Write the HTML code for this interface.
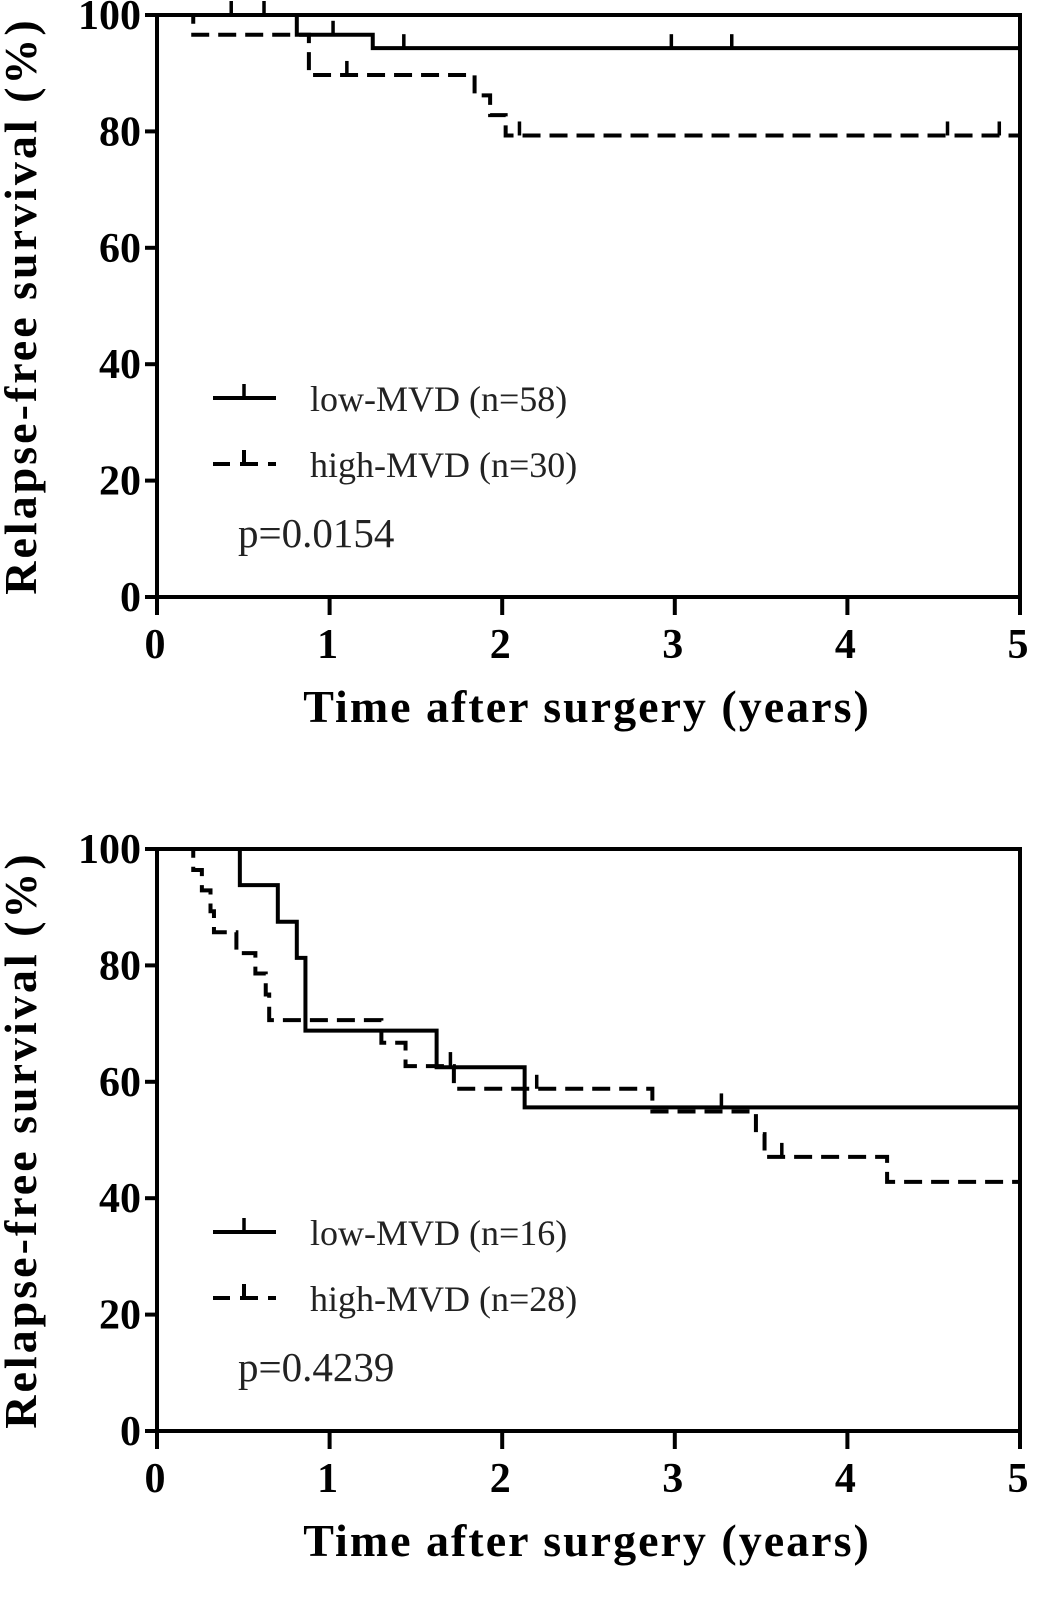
<!DOCTYPE html>
<html><head><meta charset="utf-8"><style>
html,body{margin:0;padding:0;background:#fff}
svg{display:block}
text{font-family:"Liberation Serif",serif}
</style></head><body>
<svg id="c" width="1063" height="1617" viewBox="0 0 1063 1617"></svg>
<script>
// Panel 1 data (years, percent)
const p1LowT = [0, 0.81, 1.25, 5];
const p1LowS = [100, 96.6, 94.3, 94.3];
const p1LowCensT = [0.43, 0.62, 1.02, 1.43, 2.98, 3.33];
const p1LowCensS = [100, 100, 96.6, 94.3, 94.3, 94.3];
const p1HighT = [0, 0.21, 0.88, 1.84, 1.93, 2.02, 5];
const p1HighS = [100, 96.6, 89.7, 86.2, 82.8, 79.3, 79.3];
const p1HighCensT = [1.10, 2.10, 4.58, 4.88];
const p1HighCensS = [89.7, 79.3, 79.3, 79.3];
// Panel 2 data
const p2LowT = [0, 0.48, 0.70, 0.81, 0.86, 1.62, 2.13, 5];
const p2LowS = [100, 93.8, 87.5, 81.3, 68.8, 62.5, 55.6, 55.6];
const p2LowCensT = [3.27];
const p2LowCensS = [55.6];
const p2HighT = [0, 0.21, 0.26, 0.31, 0.33, 0.46, 0.57, 0.63, 0.65, 1.30, 1.44, 1.72, 2.87, 3.47, 3.52, 4.23, 5];
const p2HighS = [100, 96.4, 92.9, 89.3, 85.7, 82.1, 78.6, 75.0, 70.6, 66.7, 62.7, 58.8, 54.9, 51.0, 47.1, 42.8, 42.8];
const p2HighCensT = [1.70, 2.20, 3.62];
const p2HighCensS = [62.7, 58.8, 47.1];
const xTicks = [0, 1, 2, 3, 4, 5];
const yTicks = [0, 20, 40, 60, 80, 100];

const svg = document.getElementById('c');
const NS = 'http://www.w3.org/2000/svg';
function mk(tag, attrs, parent){
  const e = document.createElementNS(NS, tag);
  for (const k in attrs) e.setAttribute(k, attrs[k]);
  (parent||svg).appendChild(e);
  return e;
}
function panel(name, top, lowT, lowS, lowCT, lowCS, highT, highS, highCT, highCS, nLow, nHigh, pval){
  const x0 = 157, x1 = 1020, y100 = top, y0 = top + 582;
  const X = t => x0 + (x1 - x0) * t / 5;
  const Y = s => y0 - (y0 - y100) * s / 100;
  const g = mk('g', {});
  
  
  const fr = mk('rect', {x:x0, y:y100, width:x1-x0, height:y0-y100, fill:'none', stroke:'#000', 'stroke-width':4}, g);
  
  
  yTicks.forEach(v => {
    const l = mk('line', {x1:x0-12, x2:x0, y1:Y(v), y2:Y(v), stroke:'#000', 'stroke-width':4}, g);
    
    
    const t = mk('text', {x:x0-16, y:Y(v)+14, 'text-anchor':'end', 'font-size':42, 'font-weight':'bold'}, g);
    t.textContent = v;
    
    
  });
  xTicks.forEach(v => {
    const l = mk('line', {x1:X(v), x2:X(v), y1:y0, y2:y0+18, stroke:'#000', 'stroke-width':4}, g);
    
    
    const t = mk('text', {x:X(v)-2, y:y0+61, 'text-anchor':'middle', 'font-size':42, 'font-weight':'bold'}, g);
    t.textContent = v;
    
    
  });
  const xt = mk('text', {x:587, y:y0+125, 'text-anchor':'middle', 'font-size':46, 'font-weight':'bold', 'letter-spacing':2}, g);
  xt.textContent = 'Time after surgery (years)';
  
  
  const yt = mk('text', {x:0, y:0, 'text-anchor':'middle', 'font-size':46, 'font-weight':'bold', 'letter-spacing':3, transform:`translate(36,${(y0+y100)/2}) rotate(-90)`}, g);
  yt.textContent = 'Relapse-free survival (%)';
  
  
  function step(T, S, dash, nm){
    let d = `M${X(T[0])},${Y(S[0])}`;
    for (let i = 1; i < T.length; i++) d += ` H${X(T[i])} V${Y(S[i])}`;
    const p = mk('path', {d, fill:'none', stroke:'#000', 'stroke-width':4}, g);
    if (dash) p.setAttribute('stroke-dasharray', '18,9');
    
    
  }
  function cens(T, S, nm){
    T.forEach((t, i) => {
      const l = mk('line', {x1:X(t), x2:X(t), y1:Y(S[i]), y2:Y(S[i])-14, stroke:'#000', 'stroke-width':3.5}, g);
      
      
    });
  }
  step(lowT, lowS, false, 'low-mvd-curve');
  step(highT, highS, true, 'high-mvd-curve');
  cens(lowCT, lowCS, 'low-mvd-censor');
  cens(highCT, highCS, 'high-mvd-censor');
  const ly1 = y100 + 383, ly2 = y100 + 449;
  const l1 = mk('line', {x1:213, x2:276, y1:ly1, y2:ly1, stroke:'#000', 'stroke-width':4}, g);
  
  
  mk('line', {x1:244, x2:244, y1:ly1, y2:ly1-14, stroke:'#000', 'stroke-width':3.5}, g);
  const l2 = mk('path', {d:`M213,${ly2} H230 M240,${ly2} H258 M268,${ly2} H276 M244,${ly2} V${ly2-14}`, stroke:'#000', 'stroke-width':4, fill:'none'}, g);
  
  
  const t1 = mk('text', {x:310, y:ly1+13, 'font-size':36, fill:'#222'}, g);
  t1.textContent = `low-MVD (n=${nLow})`;
  
  
  const t2 = mk('text', {x:310, y:ly2+13, 'font-size':36, fill:'#222'}, g);
  t2.textContent = `high-MVD (n=${nHigh})`;
  
  
  const pt = mk('text', {x:238, y:y100+532, 'font-size':41, fill:'#222'}, g);
  pt.textContent = pval;
  
  
}
panel('panel-top', 15, p1LowT, p1LowS, p1LowCensT, p1LowCensS, p1HighT, p1HighS, p1HighCensT, p1HighCensS, 58, 30, 'p=0.0154');
panel('panel-bottom', 849, p2LowT, p2LowS, p2LowCensT, p2LowCensS, p2HighT, p2HighS, p2HighCensT, p2HighCensS, 16, 28, 'p=0.4239');
</script>
</body></html>
